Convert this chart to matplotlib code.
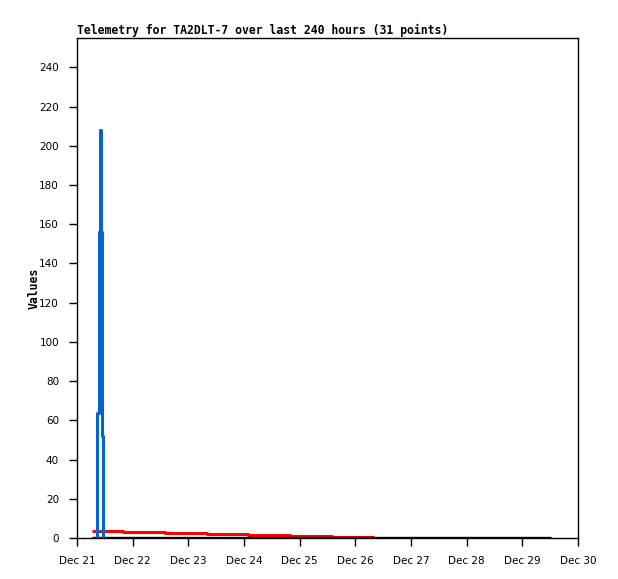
import matplotlib
matplotlib.use('Agg')
import matplotlib.pyplot as plt

# x values are days after Dec 21 00:00
day_labels=['Dec 21','Dec 22','Dec 23','Dec 24','Dec 25','Dec 26','Dec 27','Dec 28','Dec 29','Dec 30']

red_t=[0.27,0.83,1.58,2.33,3.08,3.83,4.58,5.33]
red_v=[3.4,2.9,2.4,1.9,1.4,0.9,0.4,0.4]

blue_t=[0.36,0.368,0.404,0.422,0.44,0.458,0.476]
blue_v=[0,64,156,208,156,52,0]

black_t=[0.27,8.51]
black_v=[0,0]

fig=plt.figure(figsize=(6.18,5.79),dpi=100)
ax=fig.add_axes([77/618,41/579,501/618,500/579])

ax.plot(black_t,black_v,color='black',lw=2.4,solid_capstyle='butt',zorder=3)
ax.plot(red_t,red_v,color='#ff0000',lw=2.2,drawstyle='steps-post',solid_capstyle='butt',zorder=2)
ax.plot(blue_t,blue_v,color='#0066cc',lw=2.2,drawstyle='steps-post',zorder=4)

ax.set_xlim(0,9)
ax.set_ylim(0,255)
ax.set_xticks(range(10))
ax.set_xticklabels(day_labels)
ax.set_yticks(range(0,241,20))
ax.tick_params(axis='both',direction='out',length=6,width=1,labelsize=7.5,pad=7)
for s in ax.spines.values():
    s.set_linewidth(1)

ax.set_title('Telemetry for TA2DLT-7 over last 240 hours (31 points)',loc='left',
             family='DejaVu Sans Mono',fontweight='bold',fontsize=8.3,pad=3)
ax.set_ylabel('Values',family='DejaVu Sans Mono',fontweight='bold',fontsize=8.3,labelpad=-1)

fig.savefig('out.png',dpi=100)
